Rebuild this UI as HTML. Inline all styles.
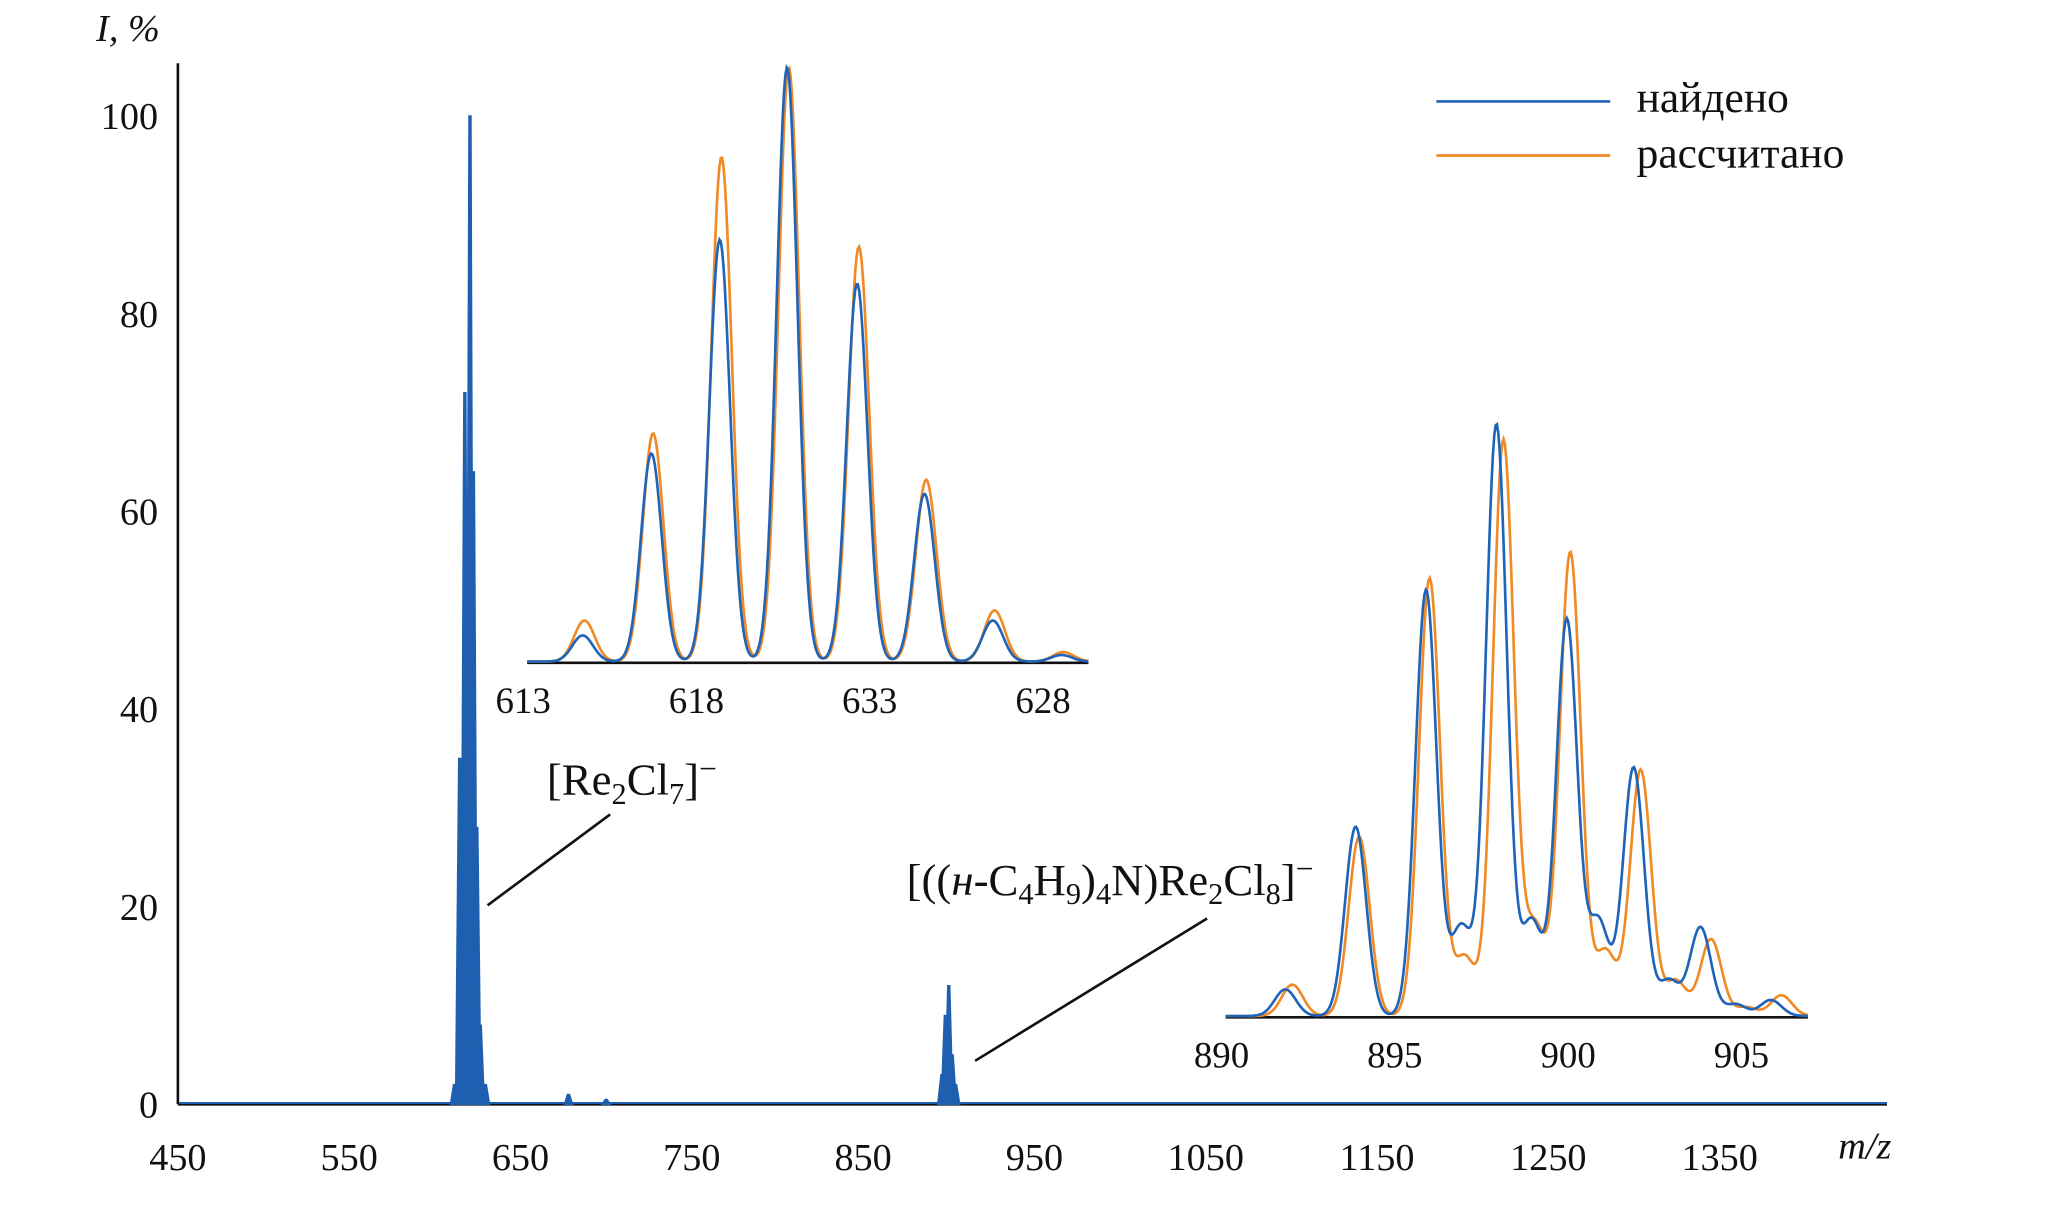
<!DOCTYPE html>
<html><head><meta charset="utf-8">
<style>
html,body{margin:0;padding:0;background:#fff;}
svg{display:block;}
text{font-family:"Liberation Serif",serif;fill:#111;}
</style></head>
<body>
<svg id="chart" width="2067" height="1220" viewBox="0 0 1568.6 925.8" preserveAspectRatio="none" xmlns="http://www.w3.org/2000/svg">
<g id="main"></g>
<g id="inset1"></g>
<g id="inset2"></g>
<g>
<line x1="1090" y1="77" x2="1222" y2="77" stroke="#1f64b8" stroke-width="2"/>
<text x="1242" y="85" font-size="33">найдено</text>
<line x1="1090" y1="118" x2="1222" y2="118" stroke="#f08a24" stroke-width="2"/>
<text x="1242" y="127" font-size="33">рассчитано</text>
</g>
<text x="73" y="31" font-size="29" font-style="italic">I, %</text>
<text x="1395" y="879" font-size="29" font-style="italic">m/z</text>
<text x="415" y="603" font-size="34">[Re<tspan font-size="23" dy="7">2</tspan><tspan dy="-7">Cl</tspan><tspan font-size="23" dy="7">7</tspan><tspan dy="-7">]</tspan><tspan dy="-12" font-size="24">−</tspan></text>
<line x1="370" y1="687" x2="463" y2="618" stroke="#111" stroke-width="2"/>
<text x="688" y="679" font-size="34">[((<tspan font-style="italic">н</tspan>-C<tspan font-size="23" dy="7">4</tspan><tspan dy="-7">H</tspan><tspan font-size="23" dy="7">9</tspan><tspan dy="-7">)</tspan><tspan font-size="23" dy="7">4</tspan><tspan dy="-7">N)Re</tspan><tspan font-size="23" dy="7">2</tspan><tspan dy="-7">Cl</tspan><tspan font-size="23" dy="7">8</tspan><tspan dy="-7">]</tspan><tspan dy="-12" font-size="24">−</tspan></text>
<line x1="740" y1="805" x2="916" y2="697" stroke="#111" stroke-width="2"/>
</svg>
<script>
const NS="http://www.w3.org/2000/svg";
// main spectrum data
const xTicks=[450,550,650,750,850,950,1050,1150,1250,1350];
const yTicks=[0,20,40,60,80,100];
const mainMz=[611.5,614.5,617.5,620.5,622.5,624.5,626.5,629.5,678,700,896,898,900,902,904];
const mainInt=[2,35,72,100,64,28,8,2,1,0.5,3,9,12,5,2];
// inset 1 data (m/z, %)
const in1Ticks=[613,618,633,628];
const in1Mz=[614.76,616.75,618.73,620.68,622.71,624.66,626.64,628.63];
const in1Found=[4.4,35,71,100,63.6,28.2,6.9,1.1];
const in1Calc=[6.9,38.4,84.9,100,69.8,30.6,8.6,1.6];
// inset 2 data
const in2Ticks=[890,895,900,905];
const in2FoundMz=[891.9,893.9,895.9,896.9,897.9,898.9,899.9,900.8,901.8,902.8,903.7,904.7,905.7];
const in2Found=[4.5,32,72,15,100,16,67,16,42,6,15,2,2.7];
const in2CalcMz=[892.1,894.0,896.0,897.0,898.1,899.0,900.0,901.0,902.0,903.0,904.0,905.0,906.0];
const in2Calc=[5.3,30.3,74,10,97.3,15,78.4,11,41.6,6,13,1.5,3.5];

function el(tag,attrs,parent){const e=document.createElementNS(NS,tag);for(const k in attrs)e.setAttribute(k,attrs[k]);parent.appendChild(e);return e;}

// main axes
const main=document.getElementById('main');
const X=v=>135+(v-450)*1.3, Y=v=>838-v*7.5;
let a=el('line',{x1:135,y1:838,x2:1432,y2:838,stroke:'#111','stroke-width':2},main);


a=el('line',{x1:135,y1:48,x2:135,y2:838,stroke:'#111','stroke-width':2},main);


xTicks.forEach(t=>{const tx=el('text',{x:X(t),y:888,'font-size':29,'text-anchor':'middle'},main);tx.textContent=t;

});
yTicks.forEach(t=>{const tx=el('text',{x:120,y:Y(t)+10,'font-size':29,'text-anchor':'end'},main);tx.textContent=t;

});
// main peaks
mainMz.forEach((m,i)=>{const cx=X(m),h=mainInt[i]*7.5,w=1.6;
const p=el('path',{d:`M${cx-w*2},838 L${cx-w*0.5},${838-h} L${cx+w*0.5},${838-h} L${cx+w*2},838 Z`,fill:'#1f5fb0',stroke:'#1f5fb0','stroke-width':1},main);

});
const bl=el('line',{x1:136,y1:837,x2:1432,y2:837,stroke:'#1f5fb0','stroke-width':1.5},main);



function inset(g,x0,x1,base,m0,ppu,maxH,sigma,ticks,series){
  const ax=el('line',{x1:x0,y1:base,x2:x1,y2:base,stroke:'#111','stroke-width':2},g);
  
  
  ticks.forEach((t,i)=>{const tx=el('text',{x:x0-3+i*131.5,y:base+38,'font-size':28,'text-anchor':'middle'},g);tx.textContent=t;
  
  });
  series.forEach(s=>{
    let d='';
    for(let x=x0;x<=x1;x+=1){const m=m0+(x-x0)/ppu;let v=0;
      s.mz.forEach((c,i)=>{const z=(m-c)/sigma;v+=s.val[i]*Math.exp(-0.5*z*z);});
      d+=(d?'L':'M')+x+','+(base-1-v/100*maxH).toFixed(1);}
    const p=el('path',{d:d,fill:'none',stroke:s.color,'stroke-width':2},g);
    
    
  });
}
inset(document.getElementById('inset1'),400,826,503,613.1,26.2,451,0.30,in1Ticks,
  [{mz:in1Mz,val:in1Calc,color:'#f08a24',name:'inset1-calculated-line'},
   {mz:in1Mz.map(m=>m-0.05),val:in1Found,color:'#1f64b8',name:'inset1-found-line'}]);
inset(document.getElementById('inset2'),930,1372,772,890.2,26.7,449,0.30,in2Ticks,
  [{mz:in2CalcMz,val:in2Calc,color:'#f08a24',name:'inset2-calculated-line'},
   {mz:in2FoundMz,val:in2Found,color:'#1f64b8',name:'inset2-found-line'}]);
</script>
</body></html>
